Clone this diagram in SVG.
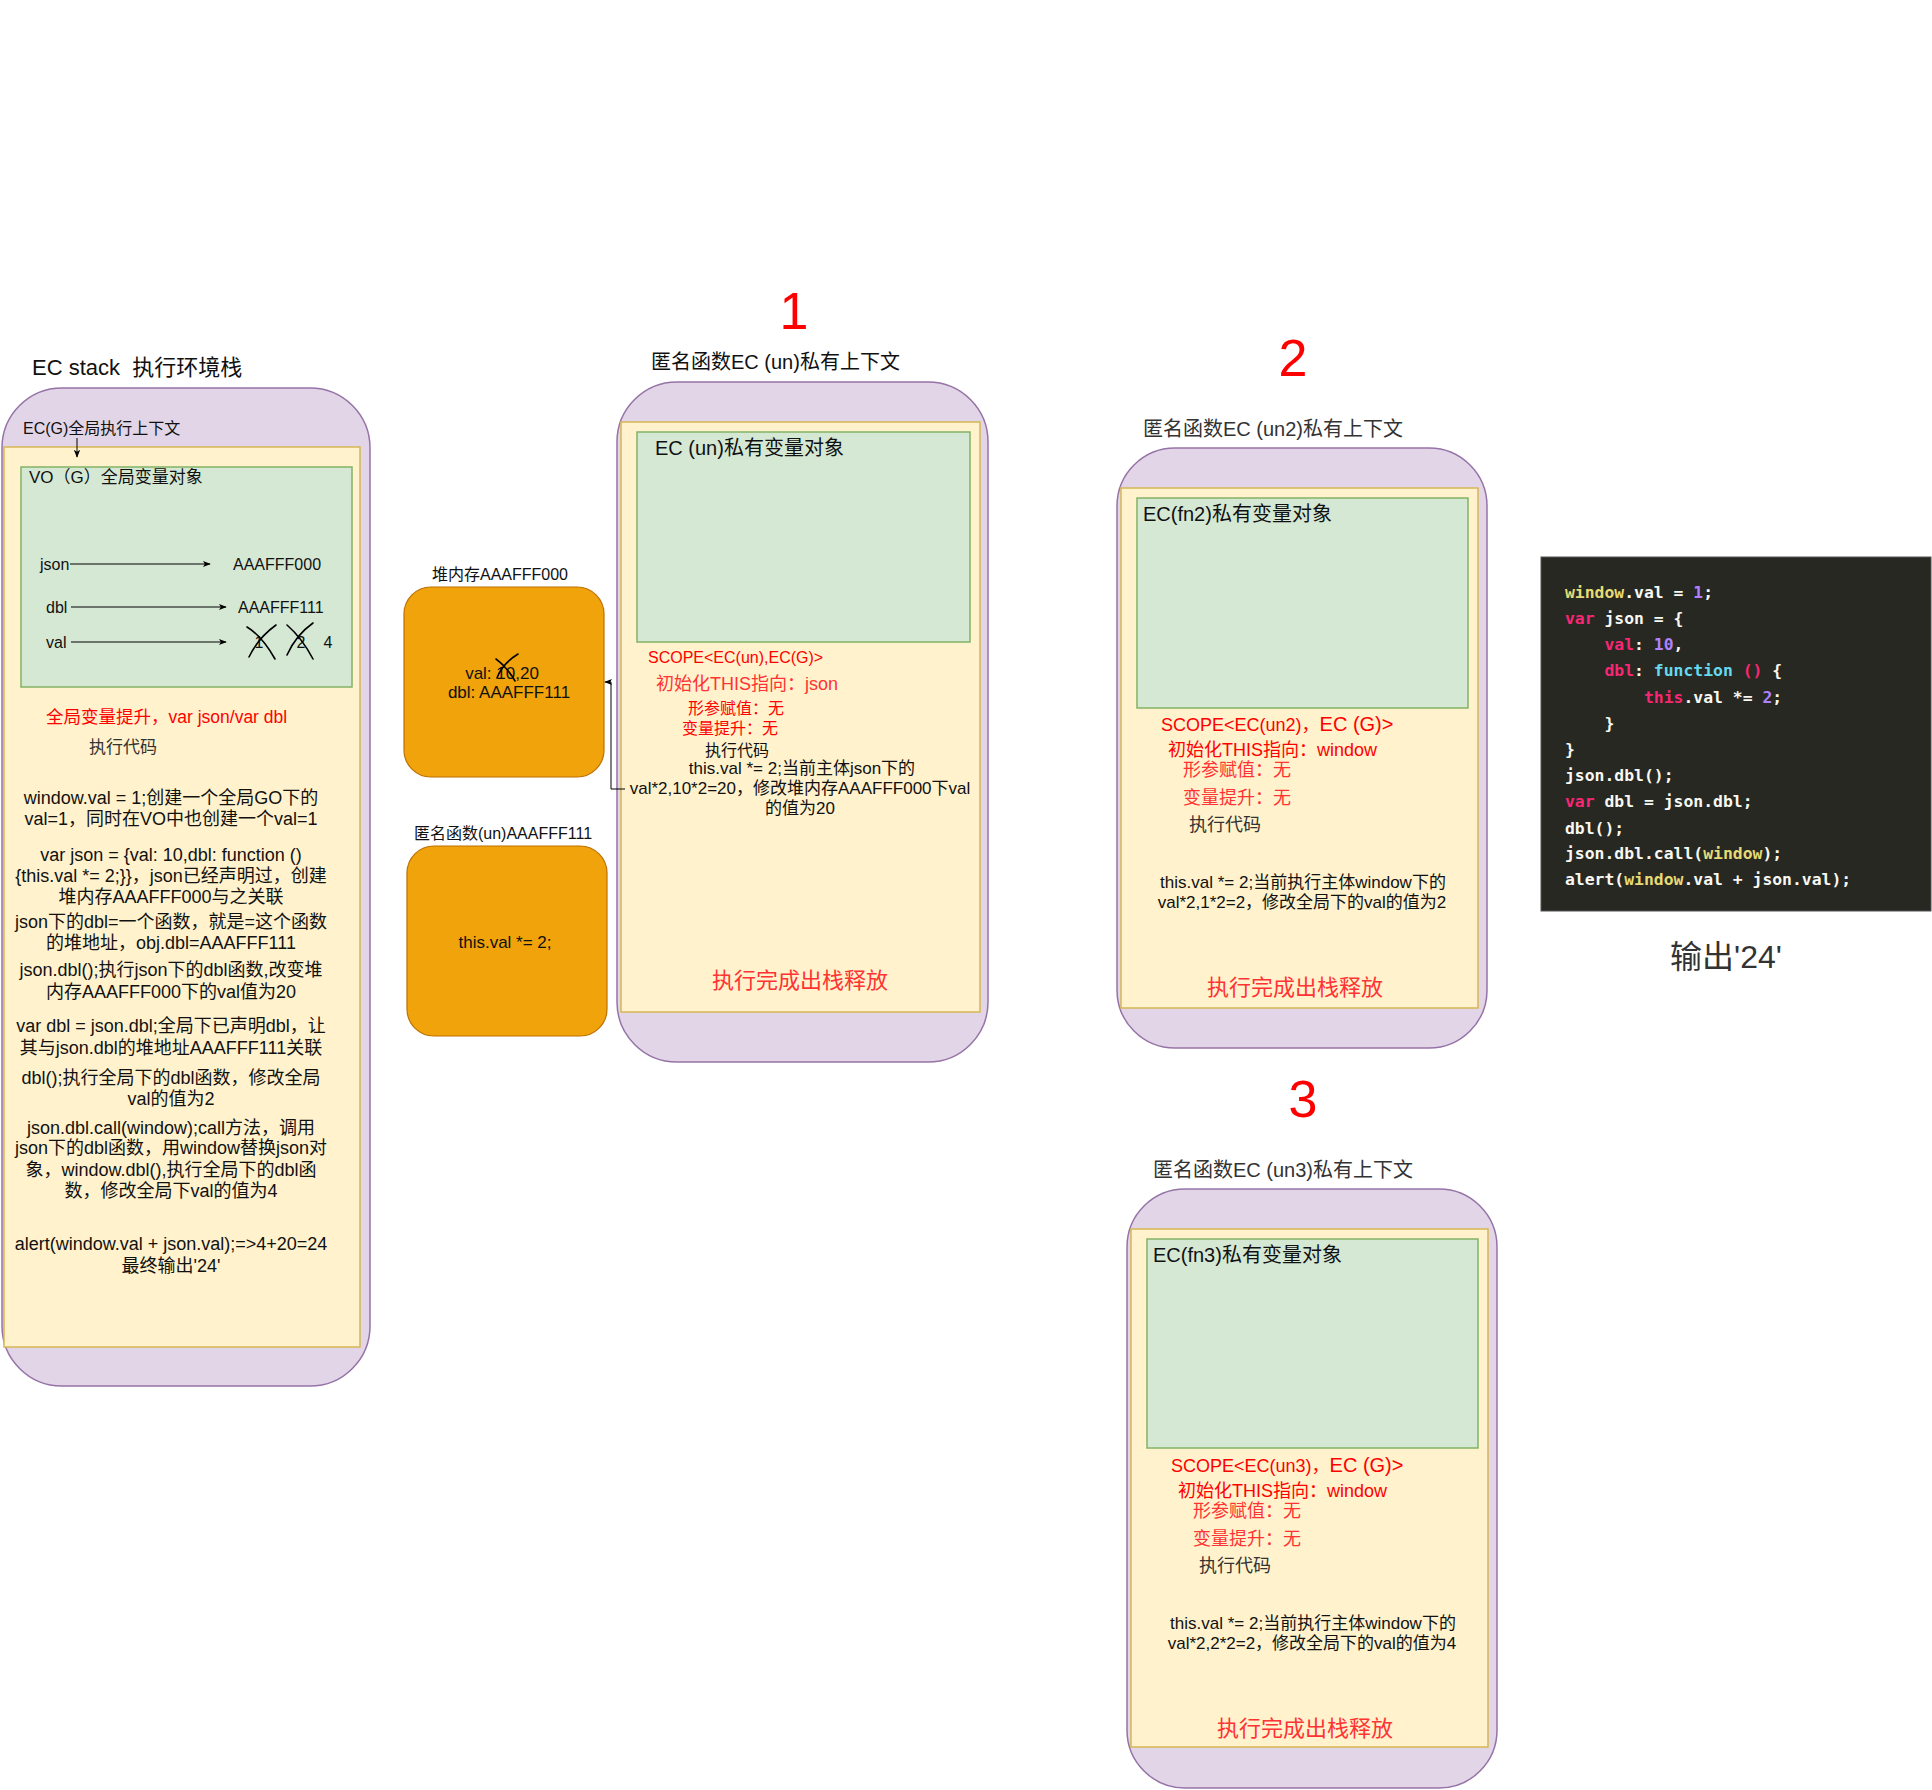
<svg xmlns="http://www.w3.org/2000/svg" width="1932" height="1790" viewBox="0 0 1932 1790">
<defs>
<style>
text{font-family:"Liberation Sans","Noto Sans CJK SC",sans-serif;fill:#111}
.red{fill:#ff0000}
.lred{fill:#ff3333}
.gray{fill:#333}
.purple{fill:#e1d5e7;stroke:#9673a6;stroke-width:1.5}
.yellow{fill:#fff2cc;stroke:#d6b656;stroke-width:1.5}
.green{fill:#d5e8d4;stroke:#82b366;stroke-width:1.5}
.orange{fill:#f0a30a;stroke:#bd7000;stroke-width:1.2}
.ln{fill:none;stroke:#000;stroke-width:1}
.x{fill:none;stroke:#000;stroke-width:1.6;stroke-linecap:round}
.mono{font-family:"DejaVu Sans Mono","Liberation Mono",monospace;font-size:16.4px;font-weight:bold;fill:#f8f8f2;white-space:pre}
.kw{fill:#f92672}
.num{fill:#ae81ff}
.fn{fill:#66d9ef}
.win{fill:#e6db74}
.big{font-size:52px;fill:#ff0000}
</style>
<marker id="arr" viewBox="0 0 10 10" refX="9" refY="5" markerWidth="8" markerHeight="8" orient="auto" markerUnits="userSpaceOnUse">
<path d="M0,1 L10,5 L0,9 L2.5,5 Z" fill="#000"/>
</marker>
</defs>

<!-- EC stack label -->
<text x="32" y="375" font-size="22">EC stack&#160; 执行环境栈</text>

<g id="ec-stack">
<rect class="purple" x="2" y="388" width="368" height="998" rx="60" ry="60"/>
<text x="23" y="434" font-size="16">EC(G)全局执行上下文</text>
<rect class="yellow" x="4" y="447" width="356" height="900"/>
<g id="vo-g">
<rect class="green" x="21" y="467" width="331" height="220"/>
<text x="29" y="483" font-size="17">VO（G）全局变量对象</text>
<text x="40" y="570" font-size="16">json</text>
<text x="233" y="570" font-size="16">AAAFFF000</text>
<text x="46" y="613" font-size="16">dbl</text>
<text x="238" y="613" font-size="16">AAAFFF111</text>
<text x="46" y="648" font-size="16">val</text>
<text x="259" y="648" font-size="16" text-anchor="middle">1</text>
<text x="301" y="648" font-size="16" text-anchor="middle">2</text>
<text x="328" y="648" font-size="16" text-anchor="middle">4</text>
<path class="x" d="M247,627 Q262,636 275,659"/>
<path class="x" d="M249,657 Q258,638 276,625"/>
<path class="x" d="M287,625 Q302,638 313,659"/>
<path class="x" d="M287,655 Q296,635 313,623"/>
</g>
<text x="46" y="723" font-size="17.5" class="red">全局变量提升，var json/var dbl</text>
<text x="123" y="753" font-size="17" text-anchor="middle" class="gray">执行代码</text>
<g font-size="18" text-anchor="middle">
<text x="171" y="803.5">window.val = 1;创建一个全局GO下的</text>
<text x="171" y="824.5">val=1，同时在VO中也创建一个val=1</text>
<text x="171" y="860.5">var json = {val: 10,dbl: function ()</text>
<text x="171" y="881.5">{this.val *= 2;}}，json已经声明过，创建</text>
<text x="171" y="902.5">堆内存AAAFFF000与之关联</text>
<text x="171" y="927.5">json下的dbl=一个函数，就是=这个函数</text>
<text x="171" y="948.5">的堆地址，obj.dbl=AAAFFF111</text>
<text x="171" y="975.5">json.dbl();执行json下的dbl函数,改变堆</text>
<text x="171" y="997.5">内存AAAFFF000下的val值为20</text>
<text x="171" y="1031.5">var dbl = json.dbl;全局下已声明dbl，让</text>
<text x="171" y="1053.5">其与json.dbl的堆地址AAAFFF111关联</text>
<text x="171" y="1083.5">dbl();执行全局下的dbl函数，修改全局</text>
<text x="171" y="1104.5">val的值为2</text>
<text x="171" y="1133.5">json.dbl.call(window);call方法，调用</text>
<text x="171" y="1153.5">json下的dbl函数，用window替换json对</text>
<text x="171" y="1175.5">象，window.dbl(),执行全局下的dbl函</text>
<text x="171" y="1196.5">数，修改全局下val的值为4</text>
<text x="171" y="1249.5">alert(window.val + json.val);=&gt;4+20=24</text>
<text x="171" y="1271.5">最终输出'24'</text>
</g>
</g>

<g id="heap-000">
<text x="500" y="580" font-size="16" text-anchor="middle">堆内存AAAFFF000</text>
<rect class="orange" x="404" y="587" width="200" height="190" rx="27" ry="27"/>
<text x="502" y="679" font-size="17" text-anchor="middle">val: 10,20</text>
<text x="509" y="698" font-size="17" text-anchor="middle">dbl: AAAFFF111</text>
<path class="x" d="M496,659 Q507,667 515,681"/>
<path class="x" d="M497,678 Q502,664 518,654"/>
</g>

<g id="heap-111">
<text x="503" y="839" font-size="16" text-anchor="middle">匿名函数(un)AAAFFF111</text>
<rect class="orange" x="407" y="846" width="200" height="190" rx="27" ry="27"/>
<text x="505" y="948" font-size="17" text-anchor="middle">this.val *= 2;</text>
</g>

<g id="ec-un">
<text x="794" y="329" class="big" text-anchor="middle">1</text>
<text x="651" y="369" font-size="20">匿名函数EC (un)私有上下文</text>
<rect class="purple" x="617" y="382" width="371" height="680" rx="60" ry="60"/>
<rect class="yellow" x="621" y="422" width="359" height="590"/>
<rect class="green" x="637" y="432" width="333" height="210"/>
<text x="655" y="455" font-size="20">EC (un)私有变量对象</text>
<text x="648" y="663" font-size="16" class="red">SCOPE&lt;EC(un),EC(G)&gt;</text>
<text x="656" y="689.5" font-size="18" class="lred">初始化THIS指向：json</text>
<text x="688" y="714" font-size="16" class="red">形参赋值：无</text>
<text x="682" y="734" font-size="16" class="red">变量提升：无</text>
<text x="705" y="756" font-size="16">执行代码</text>
<text x="802" y="774" font-size="17" text-anchor="middle">this.val *= 2;当前主体json下的</text>
<text x="800" y="794" font-size="17" text-anchor="middle">val*2,10*2=20，修改堆内存AAAFFF000下val</text>
<text x="800" y="814" font-size="17" text-anchor="middle">的值为20</text>
<text x="800" y="988" font-size="22" text-anchor="middle" class="lred">执行完成出栈释放</text>
</g>

<g id="ec-un2">
<text x="1293" y="376" class="big" text-anchor="middle">2</text>
<text x="1143" y="436" font-size="20" class="gray">匿名函数EC (un2)私有上下文</text>
<rect class="purple" x="1117" y="448" width="370" height="600" rx="58" ry="58"/>
<rect class="yellow" x="1121" y="488" width="357" height="520"/>
<rect class="green" x="1137" y="498" width="331" height="210"/>
<text x="1143" y="521" font-size="20">EC(fn2)私有变量对象</text>
<text x="1161" y="730.5" font-size="18" class="red">SCOPE&lt;EC(un2)，<tspan font-size="20">EC (G)&gt;</tspan></text>
<text x="1168" y="755.5" font-size="18" class="red">初始化THIS指向：window</text>
<text x="1183" y="775.5" font-size="18" class="lred">形参赋值：无</text>
<text x="1183" y="803.5" font-size="18" class="lred">变量提升：无</text>
<text x="1189" y="830.5" font-size="18" class="gray">执行代码</text>
<text x="1303" y="888" font-size="17" text-anchor="middle">this.val *= 2;当前执行主体window下的</text>
<text x="1302" y="908" font-size="17" text-anchor="middle">val*2,1*2=2，修改全局下的val的值为2</text>
<text x="1295" y="995" font-size="22" text-anchor="middle" class="lred">执行完成出栈释放</text>
</g>

<g id="ec-un3" transform="translate(10,741)">
<text x="1293" y="376" class="big" text-anchor="middle">3</text>
<text x="1143" y="436" font-size="20" class="gray">匿名函数EC (un3)私有上下文</text>
<rect class="purple" x="1117" y="448" width="370" height="599" rx="58" ry="58"/>
<rect class="yellow" x="1121" y="488" width="357" height="518"/>
<rect class="green" x="1137" y="498" width="331" height="209"/>
<text x="1143" y="521" font-size="20">EC(fn3)私有变量对象</text>
<text x="1161" y="730.5" font-size="18" class="red">SCOPE&lt;EC(un3)，<tspan font-size="20">EC (G)&gt;</tspan></text>
<text x="1168" y="755.5" font-size="18" class="red">初始化THIS指向：window</text>
<text x="1183" y="775.5" font-size="18" class="lred">形参赋值：无</text>
<text x="1183" y="803.5" font-size="18" class="lred">变量提升：无</text>
<text x="1189" y="830.5" font-size="18" class="gray">执行代码</text>
<text x="1303" y="888" font-size="17" text-anchor="middle">this.val *= 2;当前执行主体window下的</text>
<text x="1302" y="908" font-size="17" text-anchor="middle">val*2,2*2=2，修改全局下的val的值为4</text>
<text x="1295" y="995" font-size="22" text-anchor="middle" class="lred">执行完成出栈释放</text>
</g>

<g id="code-panel">
<rect x="1541" y="557" width="390" height="354" fill="#272822" stroke="#555" stroke-width="1"/>
<text class="mono" x="1565" y="597.7"><tspan class="win">window</tspan>.val = <tspan class="num">1</tspan>;</text>
<text class="mono" x="1565" y="623.7"><tspan class="kw">var</tspan> json = {</text>
<text class="mono" x="1565" y="649.7">    <tspan class="kw">val</tspan>: <tspan class="num">10</tspan>,</text>
<text class="mono" x="1565" y="675.7">    <tspan class="kw">dbl</tspan>: <tspan class="fn">function</tspan> <tspan class="kw">()</tspan> {</text>
<text class="mono" x="1565" y="702.7">        <tspan class="kw">this</tspan>.val *= <tspan class="num">2</tspan>;</text>
<text class="mono" x="1565" y="728.7">    }</text>
<text class="mono" x="1565" y="754.7">}</text>
<text class="mono" x="1565" y="780.7">json.dbl();</text>
<text class="mono" x="1565" y="806.7"><tspan class="kw">var</tspan> dbl = json.dbl;</text>
<text class="mono" x="1565" y="833.7">dbl();</text>
<text class="mono" x="1565" y="858.7">json.dbl.call(<tspan class="win">window</tspan>);</text>
<text class="mono" x="1565" y="884.7">alert(<tspan class="win">window</tspan>.val + json.val);</text>
</g>

<g id="output">
<text x="1726" y="968" font-size="32" text-anchor="middle" class="gray">输出'24'</text>
</g>

<g id="connectors">
<path class="ln" d="M77,438 L77,457" marker-end="url(#arr)"/>
<path class="ln" d="M70,564 L210,564" marker-end="url(#arr)"/>
<path class="ln" d="M71,607 L226,607" marker-end="url(#arr)"/>
<path class="ln" d="M71,642 L226,642" marker-end="url(#arr)"/>
<path class="ln" d="M625,789 L611,789 L611,682 L605,682" marker-end="url(#arr)"/>
</g>
</svg>
